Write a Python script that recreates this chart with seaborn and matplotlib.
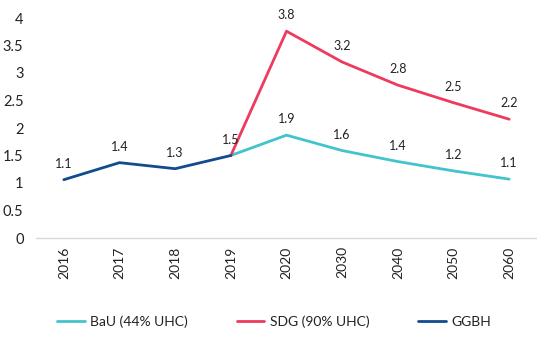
import matplotlib
matplotlib.use("Agg")
import matplotlib.pyplot as plt
import seaborn as sns

years = ["2016", "2017", "2018", "2019", "2020", "2030", "2040", "2050", "2060"]

ggbh_years = ["2016", "2017", "2018", "2019"]
ggbh_values = [1.06, 1.37, 1.26, 1.50]

bau_years = ["2019", "2020", "2030", "2040", "2050", "2060"]
bau_values = [1.50, 1.87, 1.59, 1.39, 1.22, 1.07]

sdg_years = ["2019", "2020", "2030", "2040", "2050", "2060"]
sdg_values = [1.50, 3.76, 3.20, 2.78, 2.46, 2.16]

series_names = ["BaU (44% UHC)", "SDG (90% UHC)", "GGBH"]
colors = ["#41C4CC", "#EE3A5E", "#114C8C"]

sns.set_theme(style="white")
plt.rcParams["font.family"] = ["Lato", "DejaVu Sans"]

fig = plt.figure(figsize=(5.37, 3.42), dpi=100)
ax = fig.add_axes([36 / 537, 1 - 238 / 342, 1 - 36 / 537, 220 / 342])

pos = {y: i for i, y in enumerate(years)}

series = [
    (bau_years[1:], bau_values[1:], bau_years, bau_values),
    (sdg_years[1:], sdg_values[1:], sdg_years, sdg_values),
    (ggbh_years, ggbh_values, ggbh_years, ggbh_values),
]

for name, color, (lab_years, lab_vals, yrs, vals) in zip(series_names, colors, series):
    xs = [pos[y] for y in yrs]
    sns.lineplot(x=xs, y=vals, ax=ax, color=color, linewidth=2.0, label=name)
    for y, v in zip(lab_years, lab_vals):
        ax.annotate(f"{v:.1f}", (pos[y], v), xytext=(0, 7), textcoords="offset points",
                    ha="center", va="bottom", fontsize=9, color="#222222")

ax.set_xlim(-0.5, len(years) - 0.5)
ax.set_ylim(0, 4)
ax.set_xticks(range(len(years)))
ax.set_xticklabels(years, rotation=90, fontsize=10, color="#222222")
ax.set_yticks([0, 0.5, 1, 1.5, 2, 2.5, 3, 3.5, 4])
ax.set_yticklabels(["0", "0.5", "1", "1.5", "2", "2.5", "3", "3.5", "4"], fontsize=10.5, color="#222222")
ax.tick_params(axis="both", length=0, pad=6)
ax.tick_params(axis="y", pad=9)

for side in ["top", "right", "left"]:
    ax.spines[side].set_visible(False)
ax.spines["bottom"].set_color("#D9D9D9")
ax.spines["bottom"].set_linewidth(1.0)
ax.grid(False)

handles, labels = ax.get_legend_handles_labels()
ax.get_legend().remove()
leg = fig.legend(handles, labels, loc="center", bbox_to_anchor=(274 / 537, 1 - 322 / 342), ncol=3,
                 frameon=False, fontsize=10, handlelength=2.0, columnspacing=3.5, handletextpad=0.4)
for t in leg.get_texts():
    t.set_color("#222222")

fig.savefig("out.png", dpi=100)
